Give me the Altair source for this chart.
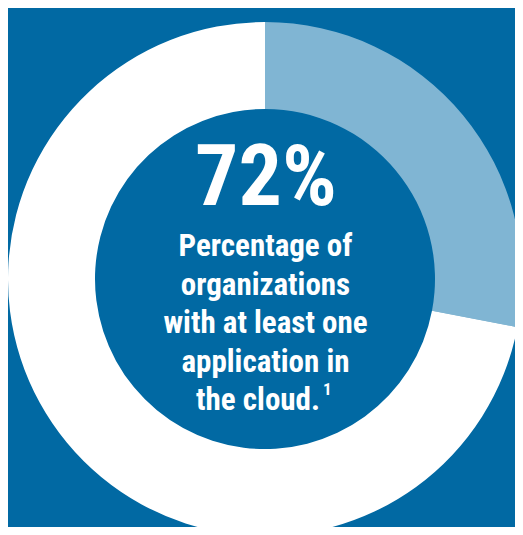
import altair as alt
import pandas as pd

# Data
segments = ["Other", "With cloud application"]
values = [28, 72]
order = [0, 1]
seg_colors = ["#80b5d3", "#ffffff"]

headline = "72%"
caption_lines = ["Percentage of", "organizations", "with at least one", "application in"]
last_line = "the cloud."
footnote = "1"

BG = "#0169a3"
FONT = "Liberation Sans Narrow, Arial Narrow, Roboto Condensed, DejaVu Sans Condensed, sans-serif"

df = pd.DataFrame({"segment": segments, "value": values, "order": order})

cx, cy = 256, 271

donut = alt.Chart(df).mark_arc(innerRadius=170, outerRadius=257).encode(
    theta=alt.Theta("value:Q", stack=True),
    color=alt.Color("segment:N", scale=alt.Scale(domain=segments, range=seg_colors), legend=None),
    order=alt.Order("order:Q"),
    x=alt.value(cx),
    y=alt.value(cy),
)

base_text = alt.Chart(pd.DataFrame({"a": [0]}))

big = base_text.mark_text(
    font=FONT, fontWeight="bold", fontSize=86, color="white",
    align="center", baseline="alphabetic",
).encode(x=alt.value(cx + 1), y=alt.value(197), text=alt.value(headline))

caption = base_text.mark_text(
    font=FONT, fontWeight="bold", fontSize=31, color="white",
    align="center", baseline="alphabetic", lineHeight=38.5,
).encode(x=alt.value(cx + 0.5), y=alt.value(248), text=alt.value(caption_lines))

last = base_text.mark_text(
    font=FONT, fontWeight="bold", fontSize=31, color="white",
    align="center", baseline="alphabetic",
).encode(x=alt.value(249), y=alt.value(402), text=alt.value(last_line))

sup = base_text.mark_text(
    font=FONT, fontWeight="bold", fontSize=17, color="white",
    align="left", baseline="alphabetic",
).encode(x=alt.value(314), y=alt.value(387), text=alt.value(footnote))

chart = alt.layer(donut, big, caption, last, sup).properties(
    width=507, height=519,
    autosize=alt.AutoSizeParams(type="fit", contains="padding"),
    padding=0,
    background=BG,
).configure_view(stroke=None)

chart.save("out.html", embed_options={"renderer": "svg", "actions": False})
